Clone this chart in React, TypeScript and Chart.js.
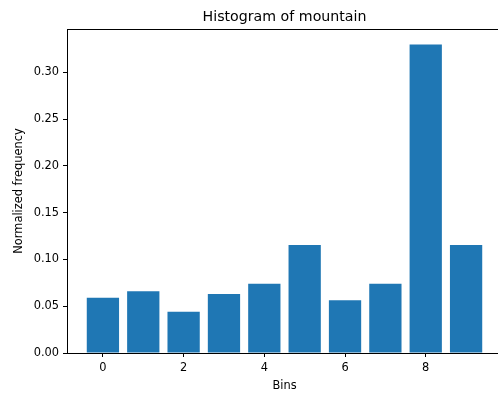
import React, { useEffect, useRef } from "react";
import { Chart, registerables } from "chart.js";

Chart.register(...registerables);

const bins = [0, 1, 2, 3, 4, 5, 6, 7, 8, 9];
const frequencies = [0.059, 0.066, 0.044, 0.063, 0.074, 0.1155, 0.0565, 0.074, 0.330, 0.1155];
const xTicks = [0, 2, 4, 6, 8];
const yTicks = [0, 0.05, 0.1, 0.15, 0.2, 0.25, 0.3];
const titleText = "Histogram of mountain";
const xLabel = "Bins";
const yLabel = "Normalized frequency";

const FONT = "'DejaVu Sans', sans-serif";
const W = 503;
const H = 395;
const LEFT = 67;
const TOP = 29;
const BOTTOM = 353;

const textPlugin = {
  id: "mplText",
  afterDraw(chart: any) {
    const ctx = chart.ctx;
    const a = chart.chartArea;
    ctx.save();
    ctx.strokeStyle = "#000";
    ctx.lineWidth = 1;
    ctx.beginPath();
    ctx.moveTo(a.left, a.top + 0.5);
    ctx.lineTo(a.right, a.top + 0.5);
    ctx.moveTo(a.right - 0.5, a.top);
    ctx.lineTo(a.right - 0.5, a.bottom);
    ctx.stroke();
    ctx.fillStyle = "#000";
    const cx = (a.left + a.right) / 2;
    ctx.font = `14.2px ${FONT}`;
    ctx.textAlign = "center";
    ctx.textBaseline = "alphabetic";
    ctx.fillText(titleText, cx, 21);
    ctx.font = `11.4px ${FONT}`;
    ctx.fillText(xLabel, cx, 389);
    ctx.translate(22, (a.top + a.bottom) / 2);
    ctx.rotate(-Math.PI / 2);
    ctx.fillText(yLabel, 0, 0);
    ctx.restore();
  },
};

export default function App() {
  const ref = useRef<HTMLCanvasElement>(null);
  useEffect(() => {
    if (!ref.current) return;
    const chart = new Chart(ref.current, {
      type: "bar",
      data: {
        datasets: [
          {
            data: bins.map((b, i) => ({ x: b, y: frequencies[i] })),
            backgroundColor: "#1f77b4",
            borderWidth: 0,
            barPercentage: 0.8,
            categoryPercentage: 1,
          },
        ],
      },
      options: {
        responsive: false,
        animation: false,
        devicePixelRatio: 1,
        layout: { padding: { top: TOP, left: 0, right: 1, bottom: 0 } },
        plugins: {
          legend: { display: false },
          title: { display: false },
          tooltip: { enabled: false },
        },
        scales: {
          x: {
            type: "linear",
            min: -0.89,
            max: 9.89,
            offset: false,
            grid: {
              display: true,
              offset: false,
              drawOnChartArea: false,
              drawTicks: true,
              tickLength: 4,
              tickColor: "#000",
            },
            border: { display: true, color: "#000", width: 1 },
            ticks: {
              color: "#000",
              font: { family: FONT, size: 11.4 },
              padding: 4,
              maxRotation: 0,
              autoSkip: false,
              callback: (v: any) => String(v),
            },
            afterBuildTicks: (s: any) => {
              s.ticks = xTicks.map((v) => ({ value: v }));
            },
            afterFit: (s: any) => {
              s.height = H - BOTTOM;
            },
          },
          y: {
            min: 0,
            max: 0.3465,
            grid: {
              display: true,
              offset: false,
              drawOnChartArea: false,
              drawTicks: true,
              tickLength: 4,
              tickColor: "#000",
            },
            border: { display: true, color: "#000", width: 1 },
            ticks: {
              color: "#000",
              font: { family: FONT, size: 11.4 },
              padding: 4,
              autoSkip: false,
              callback: (v: any) => Number(v).toFixed(2),
            },
            afterBuildTicks: (s: any) => {
              s.ticks = yTicks.map((v) => ({ value: v }));
            },
            afterFit: (s: any) => {
              s.width = LEFT;
            },
          },
        },
      },
      plugins: [textPlugin],
    });
    return () => chart.destroy();
  }, []);
  return (
    <div
      style={{
        position: "fixed",
        left: 0,
        top: 0,
        width: 498,
        height: H,
        overflow: "hidden",
        background: "#fff",
      }}
    >
      <canvas ref={ref} width={W} height={H} style={{ display: "block", width: W, height: H }} />
    </div>
  );
}
